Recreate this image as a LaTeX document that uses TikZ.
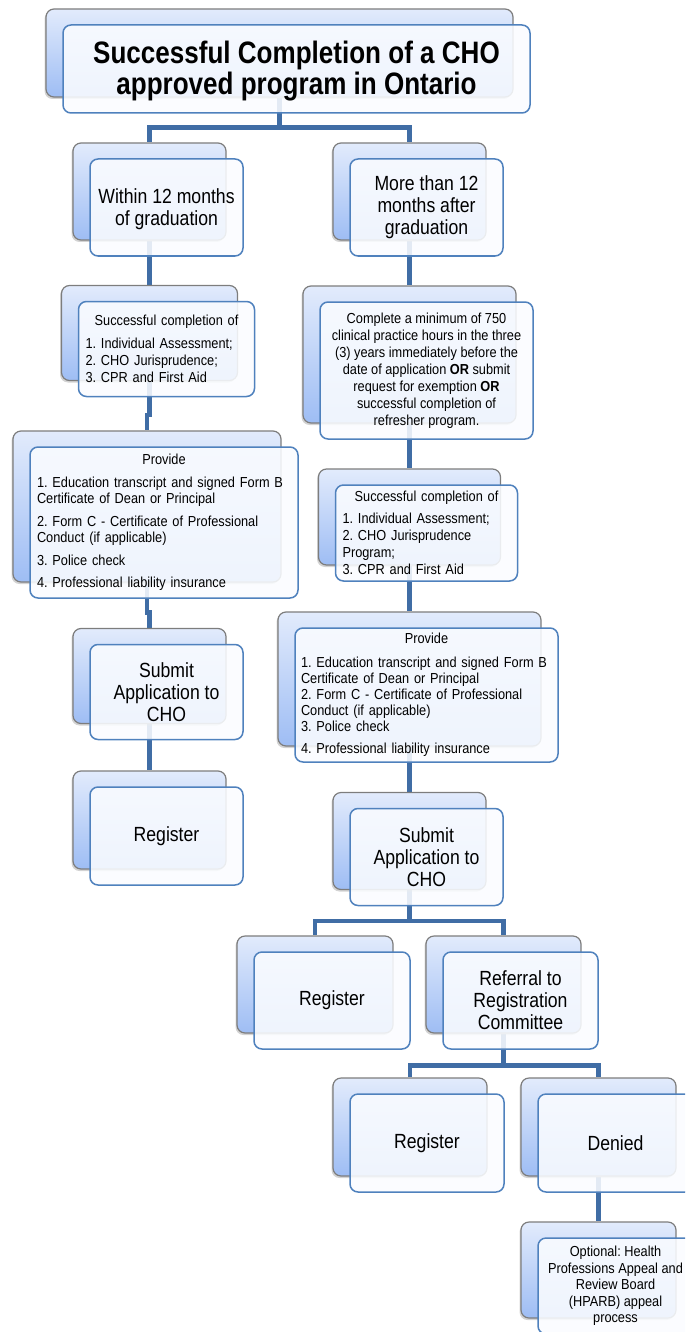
\documentclass[tikz,border=0pt]{standalone}
\usepackage{fontspec}
\setmainfont{Liberation Sans}
\newfontfamily\titlefont{Liberation Sans}[FakeStretch=0.84]
\newfontfamily\midfont{Liberation Sans}[FakeStretch=0.86]
\newfontfamily\smallfont{Liberation Sans}[FakeStretch=0.88]
\usetikzlibrary{shadows,calc}
\frenchspacing

\definecolor{linkblue}{RGB}{64,109,165}
\definecolor{frontline}{RGB}{79,129,189}
\definecolor{frontfill}{RGB}{250,252,255}
\definecolor{backtop}{RGB}{226,235,252}
\definecolor{backbot}{RGB}{158,189,244}
\definecolor{backline}{RGB}{125,125,125}

\pgfdeclarelayer{bg}
\pgfsetlayers{bg,main}

\tikzset{
  backbox/.style={draw=backline, line width=1.2pt, rounded corners=8pt,
    top color=backtop, bottom color=backbot,
    drop shadow={shadow xshift=-1.5pt, shadow yshift=-2pt, opacity=0.35}},
  frontbox/.style={draw=frontline, line width=1.5pt, rounded corners=8pt,
    fill=frontfill, fill opacity=0.88, text opacity=1},
  cardsize/.style 2 args={minimum width=#1pt, minimum height=#2pt, inner sep=0pt},
  titletext/.style={font=\titlefont\bfseries\fontsize{31}{31}\selectfont, align=center},
  midtext/.style={font=\midfont\fontsize{20.5}{22}\selectfont, align=center},
  smalltext/.style={font=\smallfont\fontsize{14.5}{17}\selectfont, align=center},
  listtext/.style={font=\smallfont\fontsize{14.5}{16}\selectfont, align=left},
  link/.style={draw=linkblue, line width=4.5pt},
}

\begin{document}
\begin{tikzpicture}[x=1pt, y=-1pt]
\useasboundingbox (0,0) rectangle (685,1332);
\clip (0,0) rectangle (685,1332);

% title
\node[backbox, cardsize={467}{88}] (topb) at (279.5,53) {};
\node[frontbox, cardsize={467}{88}, titletext] (top) at ([shift={(17,16)}]topb.center)
  {\rule{0pt}{27pt}Successful Completion of a CHO\\approved program in Ontario};

% left column
\node[backbox, cardsize={153}{97}] (w12b) at (149.5,191.5) {};
\node[frontbox, cardsize={153}{97}, midtext] (w12) at ([shift={(17,16)}]w12b.center)
  {\rule{0pt}{18pt}Within 12 months\\of graduation};

\node[backbox, cardsize={176}{95}] (lscb) at (149.5,333) {};
\node[frontbox, cardsize={176}{95}, listtext, text width=162pt, inner xsep=7pt, font=\smallfont\fontsize{14.5}{17}\selectfont] (lsc) at ([shift={(17,16)}]lscb.center)
  {\makebox[\hsize]{Successful completion of}\\[6pt]
   1. Individual Assessment;\\
   2. CHO Jurisprudence;\\
   3. CPR and First Aid};

\node[backbox, cardsize={268}{151}] (lprovb) at (147,506.5) {};
\node[frontbox, cardsize={268}{151}, listtext, text width=254pt, inner xsep=7pt] (lprov) at ([shift={(17,16)}]lprovb.center)
  {\makebox[\hsize]{Provide}\\[7pt]
   1. Education transcript and signed Form B\\
   Certificate of Dean or Principal\\[7pt]
   2. Form C - Certificate of Professional\\
   Conduct (if applicable)\\[7pt]
   3. Police check\\[6pt]
   4. Professional liability insurance};

\node[backbox, cardsize={153}{95}] (lsubb) at (149.5,676) {};
\node[frontbox, cardsize={153}{95}, midtext] (lsub) at ([shift={(17,16)}]lsubb.center)
  {Submit\\Application to\\CHO};

\node[backbox, cardsize={153}{98}] (lregb) at (149.5,820) {};
\node[frontbox, cardsize={153}{98}, midtext] (lreg) at ([shift={(17,16)}]lregb.center)
  {Register};

% right column
\node[backbox, cardsize={153}{97}] (m12b) at (409.5,191.5) {};
\node[frontbox, cardsize={153}{97}, midtext] (m12) at ([shift={(17,16)}]m12b.center)
  {More than 12\\months after\\graduation};

\node[backbox, cardsize={213}{137}] (rhoursb) at (409.5,354.5) {};
\node[frontbox, cardsize={213}{137}, smalltext] (rhours) at ([shift={(17,16)}]rhoursb.center)
  {Complete a minimum of 750\\
   clinical practice hours in the three\\
   (3) years immediately before the\\
   date of application \textbf{OR} submit\\
   request for exemption \textbf{OR}\\
   successful completion of\\
   refresher program.};

\node[backbox, cardsize={182}{96}] (rscb) at (409.5,517) {};
\node[frontbox, cardsize={182}{96}, listtext, text width=168pt, inner xsep=7pt, font=\smallfont\fontsize{14.5}{17}\selectfont] (rsc) at ([shift={(17,16)}]rscb.center)
  {\makebox[\hsize]{Successful completion of}\\[5pt]
   1. Individual Assessment;\\
   2. CHO Jurisprudence\\
   Program;\\
   3. CPR and First Aid};

\node[backbox, cardsize={263}{134}] (rprovb) at (409.5,679) {};
\node[frontbox, cardsize={263}{134}, listtext, text width=251pt, inner xsep=6pt] (rprov) at ([shift={(17,16)}]rprovb.center)
  {\makebox[\hsize]{Provide}\\[8pt]
   1. Education transcript and signed Form B\\
   Certificate of Dean or Principal\\
   2. Form C - Certificate of Professional\\
   Conduct (if applicable)\\
   3. Police check\\[6pt]
   4. Professional liability insurance};

\node[backbox, cardsize={153}{97}] (rsubb) at (409.5,841) {};
\node[frontbox, cardsize={153}{97}, midtext] (rsub) at ([shift={(17,16)}]rsubb.center)
  {Submit\\Application to\\CHO};

\node[backbox, cardsize={156}{97}] (rreg1b) at (315,984.5) {};
\node[frontbox, cardsize={156}{97}, midtext] (rreg1) at ([shift={(17,16)}]rreg1b.center)
  {Register};

\node[backbox, cardsize={155}{97}] (referralb) at (503.5,984.5) {};
\node[frontbox, cardsize={155}{97}, midtext] (referral) at ([shift={(17,16)}]referralb.center)
  {Referral to\\Registration\\Committee};

\node[backbox, cardsize={154}{98}] (rreg2b) at (410,1127) {};
\node[frontbox, cardsize={154}{98}, midtext] (rreg2) at ([shift={(17,16)}]rreg2b.center)
  {Register};

\node[backbox, cardsize={155}{98}] (deniedb) at (598.5,1127) {};
\node[frontbox, cardsize={155}{98}, midtext] (denied) at ([shift={(17,16)}]deniedb.center)
  {Denied};

\node[backbox, cardsize={155}{96}] (optionalb) at (598.5,1270) {};
\node[frontbox, cardsize={155}{96}, smalltext, font=\smallfont\fontsize{14.5}{16.5}\selectfont] (optional) at ([shift={(17,16)}]optionalb.center)
  {Optional: Health\\Professions Appeal and\\Review Board\\(HPARB) appeal\\process};

% connectors
\begin{pgfonlayer}{bg}
\draw[link] (topb.south) -- ++(0,30) -| (w12b.north);
\draw[link] (topb.south) -- ++(0,30) -| (m12b.north);
\draw[link] (w12b.south) -- (lscb.north);
\draw[link] (lscb.south) -- ++(0,34) -| (lprovb.north);
\draw[link] (lprovb.south) -- ++(0,30) -| (lsubb.north);
\draw[link] (lsubb.south) -- (lregb.north);
\draw[link] (m12b.south) -- (rhoursb.north);
\draw[link] (rhoursb.south) -- (rscb.north);
\draw[link] (rscb.south) -- (rprovb.north);
\draw[link] (rprovb.south) -- (rsubb.north);
\draw[link] (rsubb.south) -- ++(0,31) -| (rreg1b.north);
\draw[link] (rsubb.south) -- ++(0,31) -| (referralb.north);
\draw[link] (referralb.south) -- ++(0,32) -| (rreg2b.north);
\draw[link] (referralb.south) -- ++(0,32) -| (deniedb.north);
\draw[link] (deniedb.south) -- (optionalb.north);
\end{pgfonlayer}
\end{tikzpicture}
\end{document}
